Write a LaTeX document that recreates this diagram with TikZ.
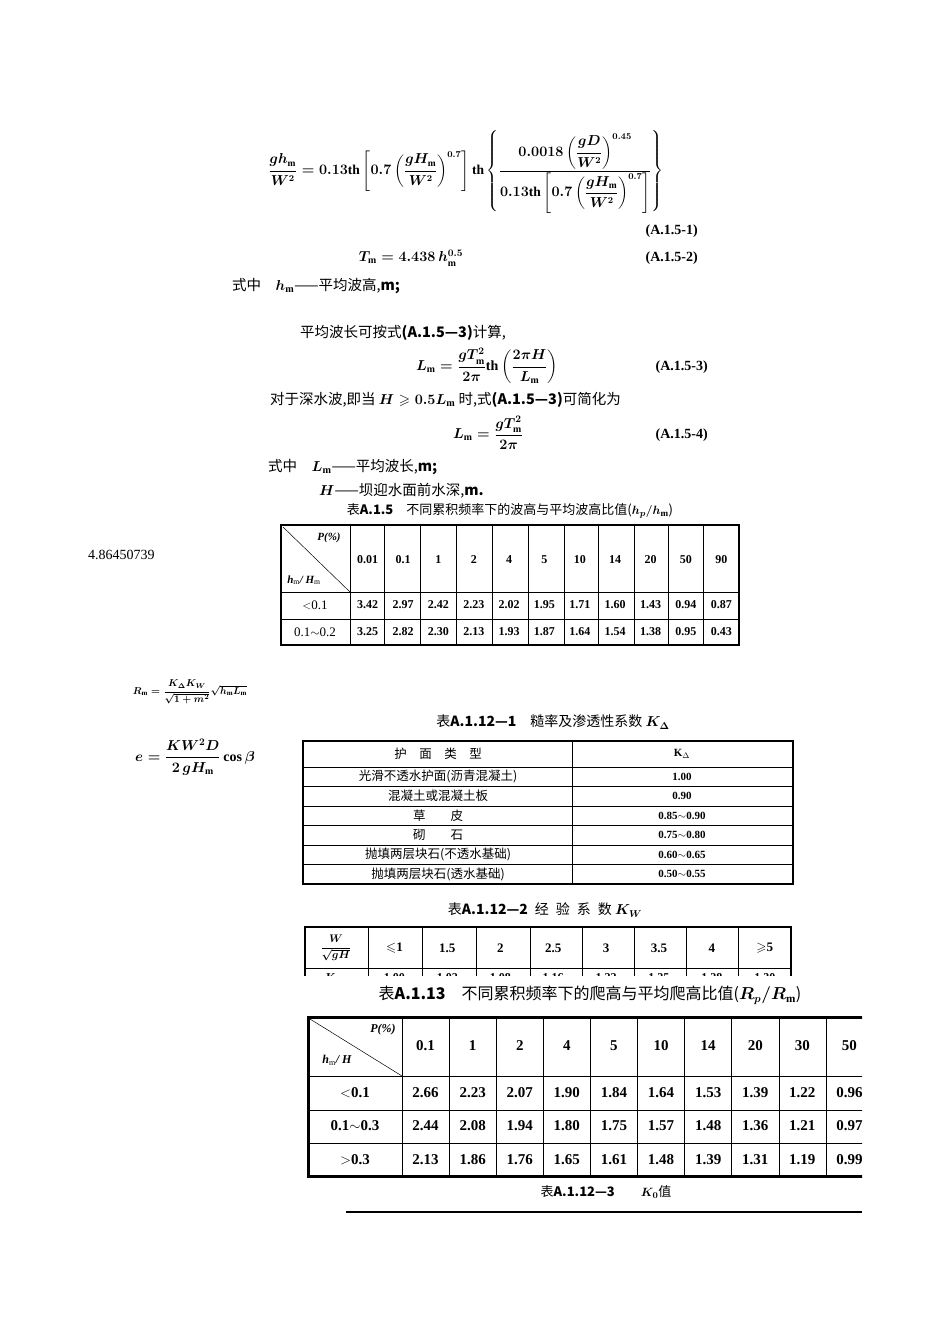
\documentclass[tikz,border=0pt]{standalone}
\usepackage{amsmath,amssymb}
\usepackage{fontspec}
\setmainfont{Liberation Serif}
\newfontfamily\cjk{Noto Sans CJK SC}
\begin{document}
\begin{tikzpicture}[x=1pt,y=-1pt,
  txt/.style={inner sep=0pt,font=\fontsize{14}{16}\selectfont},
  cn/.style={inner sep=0pt,font=\cjk\fontsize{14.5}{16}\selectfont},
  tn/.style={inner sep=0pt,font=\bfseries\fontsize{12}{14}\selectfont},
  tc/.style={inner sep=0pt,font=\cjk\fontsize{12.5}{14}\selectfont},
  lab/.style={inner sep=0pt,font=\bfseries\fontsize{14}{16}\selectfont,anchor=east},
  thick border/.style={line width=2.2pt},
  grid line/.style={line width=0.8pt}]
\useasboundingbox (0,0) rectangle (950,1344);
\fill[white] (0,0) rectangle (950,1344);

% ---- Equation A.1.5-1
\node[txt,font=\boldmath\fontsize{13.5}{15}\selectfont] (eq1) at (466,172)
 {$\dfrac{gh_{\mathrm m}}{W^2}=0.13\mathrm{th}\left[0.7\left(\dfrac{gH_{\mathrm m}}{W^2}\right)^{0.7}\right]\mathrm{th}\left\{\dfrac{0.0018\left(\dfrac{gD}{W^2}\right)^{0.45}}{0.13\mathrm{th}\left[0.7\left(\dfrac{gH_{\mathrm m}}{W^2}\right)^{0.7}\right]}\right\}$};
\node[lab] (l1) at (698,231) {(A.1.5-1)};
\node[txt,font=\boldmath\fontsize{14}{16}\selectfont] (eq2) at (411,258) {$T_{\mathrm m}=4.438\,h_{\mathrm m}^{0.5}$};
\node[lab] (l2) at (698,258) {(A.1.5-2)};
\node[cn,anchor=west] (w1) at (232,286) {式中\quad \textbf{$\boldsymbol{h_{\mathrm m}}$}——平均波高,\textbf{m;}};

\node[cn,anchor=west] (p1) at (300,333) {平均波长可按式\textbf{(A.1.5—3)}计算,};
\node[txt,font=\boldmath\fontsize{14}{16}\selectfont] (eq3) at (487,366)
 {$L_{\mathrm m}=\dfrac{gT_{\mathrm m}^2}{2\pi}\mathrm{th}\left(\dfrac{2\pi H}{L_{\mathrm m}}\right)$};
\node[lab] (l3) at (708,367) {(A.1.5-3)};
\node[cn,anchor=west] (p2) at (270,400) {对于深水波,即当 \textbf{$\boldsymbol{H\geqslant 0.5L_{\mathrm m}}$} 时,式\textbf{(A.1.5—3)}可简化为};
\node[txt,font=\boldmath\fontsize{14}{16}\selectfont] (eq4) at (488,433)
 {$L_{\mathrm m}=\dfrac{gT_{\mathrm m}^2}{2\pi}$};
\node[lab] (l4) at (708,435) {(A.1.5-4)};
\node[cn,anchor=west] (w2) at (268,467) {式中\quad \textbf{$\boldsymbol{L_{\mathrm m}}$}——平均波长,\textbf{m;}};
\node[cn,anchor=west] (w3) at (319,491) {\textbf{$\boldsymbol{H}$}——坝迎水面前水深,\textbf{m.}};

% ---- Table A.1.5
\node[tc,font=\cjk\fontsize{13}{15}\selectfont] (t1) at (510,511) {表\textbf{A.1.5}\quad 不同累积频率下的波高与平均波高比值(\textbf{$\boldsymbol{h_p/h_{\mathrm m}}$})};
\node[txt,anchor=west] (num) at (88,555) {4.86450739};
\draw[thick border] (281,525) rectangle (739,645);
\foreach \x in {350,384,420,456,492,528,564,598,634,668,703} \draw[grid line] (\x,525) -- (\x,645);
\draw[grid line] (281,592) -- (739,592);
\draw[grid line] (281,619) -- (739,619);
\draw[line width=0.5pt] (283,527) -- (350,592);
\node[txt,font=\itshape\bfseries\fontsize{11}{12}\selectfont] (h1a) at (329,538) {P(\%)};
\node[txt,font=\itshape\bfseries\fontsize{11}{12}\selectfont] (h1b) at (304,580) {h$_{\rm m}$/ H$_{\rm m}$};
\foreach \v [count=\i] in {0.01,0.1,1,2,4,5,10,14,20,50,90}
  \node[tn] (a0\i) at ({350+(\i-0.5)*35.36},560) {\v};
\node[tn,font=\fontsize{13}{15}\selectfont] (ra) at (315,605) {$<$0.1};
\node[tn,font=\fontsize{13}{15}\selectfont] (rb) at (315,632) {0.1$\sim$0.2};
\foreach \v [count=\i] in {3.42,2.97,2.42,2.23,2.02,1.95,1.71,1.60,1.43,0.94,0.87}
  \node[tn] (a1\i) at ({350+(\i-0.5)*35.36},605) {\v};
\foreach \v [count=\i] in {3.25,2.82,2.30,2.13,1.93,1.87,1.64,1.54,1.38,0.95,0.43}
  \node[tn] (a2\i) at ({350+(\i-0.5)*35.36},632) {\v};

% ---- Runup formulas
\node[txt,font=\boldmath\fontsize{10}{12}\selectfont] (rm) at (190,692)
 {$R_{\mathrm m}=\dfrac{K_\Delta K_W}{\sqrt{1+m^2}}\sqrt{h_{\mathrm m}L_{\mathrm m}}$};
\node[txt,font=\boldmath\fontsize{14}{16}\selectfont] (ee) at (195,757)
 {$e=\dfrac{KW^2D}{2\,gH_{\mathrm m}}\cos\beta$};

% ---- Table A.1.12-1
\node[tc,font=\cjk\fontsize{14}{16}\selectfont] (t2) at (553,722) {表\textbf{A.1.12—1}\quad 糙率及渗透性系数 \textbf{$\boldsymbol{K_\Delta}$}};
\draw[thick border] (303,741) rectangle (793,884);
\draw[grid line] (572,741) -- (572,884);
\foreach \y in {767,786,806,825,845,864} \draw[grid line] (303,\y) -- (793,\y);
\node[tc] (k0a) at (438,754) {护\quad 面\quad 类\quad 型};
\node[tn,font=\bfseries\fontsize{11}{13}\selectfont] (k0b) at (682,754) {K$_\Delta$};
\foreach \t/\v [count=\i] in {光滑不透水护面(沥青混凝土)/1.00,混凝土或混凝土板/0.90,草\quad\quad 皮/0.85$\sim$0.90,砌\quad\quad 石/0.75$\sim$0.80,抛填两层块石(不透水基础)/0.60$\sim$0.65,抛填两层块石(透水基础)/0.50$\sim$0.55}{
  \node[tc] (kt\i) at (438,{767+(\i-0.5)*19.5}) {\t};
  \node[tn,font=\bfseries\fontsize{11}{13}\selectfont] (kv\i) at (682,{767+(\i-0.5)*19.5}) {\v};
}

% ---- Table A.1.12-2
\node[tc,font=\cjk\fontsize{14}{16}\selectfont] (t3) at (545,910) {表\textbf{A.1.12—2}\enspace 经\enspace 验\enspace 系\enspace 数 \textbf{$\boldsymbol{K_W}$}};
\begin{scope}
\clip (290,920) rectangle (800,975);
\draw[thick border] (305,927) rectangle (791,995);
\foreach \x in {368,422,476,530,582,634,686,738} \draw[grid line] (\x,927) -- (\x,995);
\draw[grid line] (305,968) -- (791,968);
\node[txt,font=\boldmath\fontsize{11}{13}\selectfont] (kw0) at (336,948) {$\dfrac{W}{\sqrt{gH}}$};
\foreach \v [count=\i] in {$\leqslant$1,1.5,2,2.5,3,3.5,4,$\geqslant$5}
  \node[tn,font=\bfseries\fontsize{13}{15}\selectfont] (kw\i) at ({368+(\i-0.5)*52.9},948) {\v};
\node[tn] (kwr) at (336,978) {K$_W$};
\foreach \v [count=\i] in {1.00,1.02,1.08,1.16,1.22,1.25,1.28,1.30}
  \node[tn] (kx\i) at ({368+(\i-0.5)*52.9},978) {\v};
\end{scope}

% ---- Table A.1.13
\node[tc,font=\cjk\fontsize{16}{18}\selectfont] (t4) at (590,995) {表\textbf{A.1.13}\quad 不同累积频率下的爬高与平均爬高比值(\textbf{$\boldsymbol{R_p/R_{\mathrm m}}$})};
\begin{scope}
\clip (300,1010) rectangle (862,1185);
\draw[line width=3pt] (308,1017) rectangle (900,1176);
\foreach \x in {402,449,496,543,590,637,684,731,779,826} \draw[grid line] (\x,1017) -- (\x,1176);
\foreach \y in {1076,1110,1143} \draw[grid line] (308,\y) -- (900,\y);
\draw[line width=0.5pt] (310,1019) -- (402,1076);
\node[txt,font=\itshape\bfseries\fontsize{12}{14}\selectfont] (h4a) at (383,1030) {P(\%)};
\node[txt,font=\itshape\bfseries\fontsize{12}{14}\selectfont] (h4b) at (337,1060) {h$_{\rm m}$/ H};
\foreach \v [count=\i] in {0.1,1,2,4,5,10,14,20,30,50}
  \node[tn,font=\bfseries\fontsize{15}{17}\selectfont] (b0\i) at ({402+(\i-0.5)*47.1},1046) {\v};
\node[tn,font=\bfseries\fontsize{15}{17}\selectfont] (rc) at (355,1093) {$<$0.1};
\node[tn,font=\bfseries\fontsize{15}{17}\selectfont] (rd) at (355,1126) {0.1$\sim$0.3};
\node[tn,font=\bfseries\fontsize{15}{17}\selectfont] (re) at (355,1160) {$>$0.3};
\foreach \v [count=\i] in {2.66,2.23,2.07,1.90,1.84,1.64,1.53,1.39,1.22,0.96}
  \node[tn,font=\bfseries\fontsize{15}{17}\selectfont] (b1\i) at ({402+(\i-0.5)*47.1},1093) {\v};
\foreach \v [count=\i] in {2.44,2.08,1.94,1.80,1.75,1.57,1.48,1.36,1.21,0.97}
  \node[tn,font=\bfseries\fontsize{15}{17}\selectfont] (b2\i) at ({402+(\i-0.5)*47.1},1126) {\v};
\foreach \v [count=\i] in {2.13,1.86,1.76,1.65,1.61,1.48,1.39,1.31,1.19,0.99}
  \node[tn,font=\bfseries\fontsize{15}{17}\selectfont] (b3\i) at ({402+(\i-0.5)*47.1},1160) {\v};
\end{scope}

\node[tc,font=\cjk\fontsize{13}{15}\selectfont] (t5) at (606,1192) {表\textbf{A.1.12—3}\qquad \textbf{$\boldsymbol{K_0}$}值};
\draw[line width=2pt] (346,1212) -- (862,1212);
\end{tikzpicture}
\end{document}
